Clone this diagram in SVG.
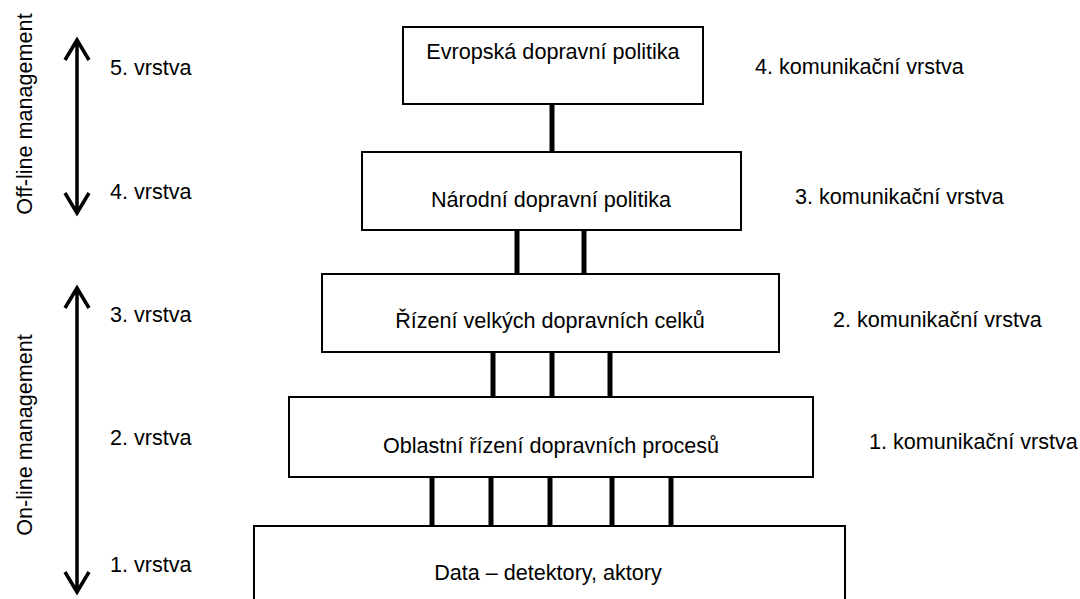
<svg xmlns="http://www.w3.org/2000/svg" width="1080" height="599" viewBox="0 0 1080 599">
<defs>
<style>
text{font-family:"Liberation Sans",Arial,sans-serif;font-size:21.6px;fill:#000}
.box{fill:#fff;stroke:#000;stroke-width:2}
.c{text-anchor:middle}
.conn line{stroke:#000;stroke-width:5}
.arr{stroke:#000;stroke-width:3.5;fill:none;stroke-linecap:butt}
</style>
</defs>
<rect width="1080" height="599" fill="#fff"/>
<g id="connectors" class="conn">
<line x1="552" y1="105" x2="552" y2="152"/>
<line x1="517" y1="231" x2="517" y2="274"/>
<line x1="584" y1="231" x2="584" y2="274"/>
<line x1="493" y1="352" x2="493" y2="397"/>
<line x1="552" y1="352" x2="552" y2="397"/>
<line x1="610" y1="352" x2="610" y2="397"/>
<line x1="432" y1="477" x2="432" y2="526"/>
<line x1="491" y1="477" x2="491" y2="526"/>
<line x1="550" y1="477" x2="550" y2="526"/>
<line x1="612" y1="477" x2="612" y2="526"/>
<line x1="671" y1="477" x2="671" y2="526"/>
</g>
<g id="n5">
<rect class="box" x="403" y="27" width="300" height="77"/>
<text class="c" x="553" y="59">Evropská dopravní politika</text>
</g>
<g id="n4">
<rect class="box" x="362" y="152" width="379" height="78"/>
<text class="c" x="551" y="207">Národní dopravní politika</text>
</g>
<g id="n3">
<rect class="box" x="322" y="274" width="457" height="78"/>
<text class="c" x="550" y="328">Řízení velkých dopravních celků</text>
</g>
<g id="n2">
<rect class="box" x="289" y="397" width="524" height="80"/>
<text class="c" x="551" y="453">Oblastní řízení dopravních procesů</text>
</g>
<g id="n1">
<rect class="box" x="254" y="526" width="591" height="80"/>
<text class="c" x="548" y="580">Data – detektory, aktory</text>
</g>
<g id="comm-labels">
<text x="755" y="74">4. komunikační vrstva</text>
<text x="795" y="204">3. komunikační vrstva</text>
<text x="833" y="327">2. komunikační vrstva</text>
<text x="869" y="449">1. komunikační vrstva</text>
</g>
<g id="layer-labels">
<text x="110" y="75">5. vrstva</text>
<text x="110" y="199">4. vrstva</text>
<text x="110" y="322">3. vrstva</text>
<text x="110" y="445">2. vrstva</text>
<text x="110" y="572">1. vrstva</text>
</g>
<g id="offline">
<path class="arr" d="M77 42 V211 M65 60 L77 40 L89 60 M65 193 L77 213 L89 193"/>
<text class="c" transform="translate(32 114) rotate(-90)">Off-line management</text>
</g>
<g id="online">
<path class="arr" d="M77 290 V590 M65 308 L77 288 L89 308 M65 572 L77 592 L89 572"/>
<text class="c" transform="translate(32 435) rotate(-90)">On-line management</text>
</g>
</svg>
